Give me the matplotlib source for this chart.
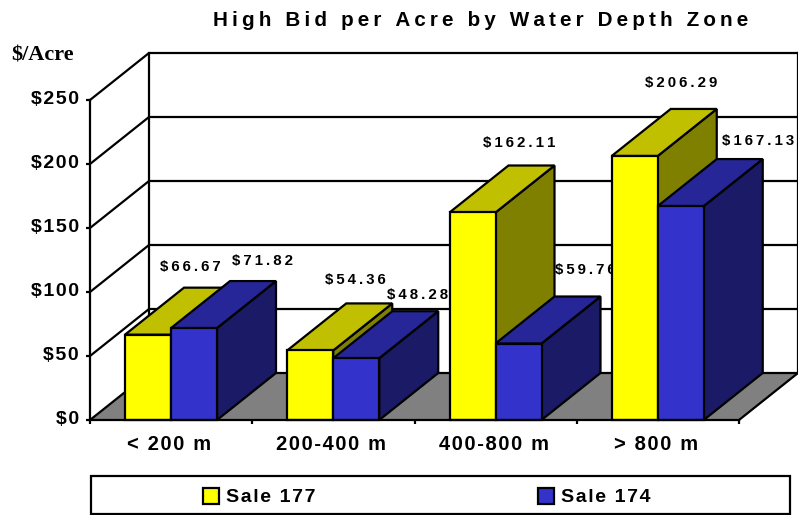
# high bid per acre chart, 3d look bars drawn by hand
import matplotlib
matplotlib.use('Agg')
import matplotlib.pyplot as plt
from matplotlib.patches import Polygon, Rectangle

categories = ['< 200 m', '200-400 m', '400-800 m', '> 800 m']
sale_177 = [66.67, 54.36, 162.11, 206.29]
sale_174 = [71.82, 48.28, 59.76, 167.13]
yticks = [0, 50, 100, 150, 200, 250]
ytick_labels = ['$0', '$50', '$100', '$150', '$200', '$250']

W, H = 798, 515
X0, Y0 = 90, 420      # pixel of category 0, value 0
CAT_W = 162.25
PX_PER_VAL = 1.28
DX = 59 / CAT_W       # depth offset in x units
DV = 47 / PX_PER_VAL  # depth offset in value units
BAR_W = 46 / CAT_W
BAR_GAP = 35 / CAT_W

plt.rcParams['font.family'] = ['Liberation Sans', 'DejaVu Sans']
plt.rcParams['font.weight'] = 'bold'

fig = plt.figure(figsize=(W / 100, H / 100), dpi=100)
ax = fig.add_axes([0, 0, 1, 1])
ax.set_xlim(-X0 / CAT_W, (W - X0) / CAT_W)
ax.set_ylim((Y0 - H) / PX_PER_VAL, Y0 / PX_PER_VAL)
ax.axis('off')

LW = 1.6
n = len(categories)
HAIR = '\u200a'
THIN = '\u2009'


def spaced(s, gap=HAIR):
    # the original text has wide letter spacing
    return gap.join(s)


def px(x, y):
    # pixel position to data position, only for text and legend
    return (x - X0) / CAT_W, (Y0 - y) / PX_PER_VAL


# floor
ax.add_patch(Polygon([(0, 0), (n, 0), (n + DX, DV), (DX, DV)], fc='#808080', ec='none', zorder=1))

# walls and gridlines
top = yticks[-1]
for v in yticks[1:]:
    ax.plot([0, DX, n + DX], [v, v + DV, v + DV], color='k', lw=LW, zorder=2, solid_capstyle='butt')
ax.plot([DX, n + DX], [DV, DV], color='k', lw=LW, zorder=2)
ax.plot([0, DX], [0, DV], color='k', lw=LW, zorder=2)
ax.plot([n, n + DX], [0, DV], color='k', lw=LW, zorder=2)
ax.plot([0, 0], [0, top], color='k', lw=LW, zorder=2)
ax.plot([DX, DX], [DV, top + DV], color='k', lw=LW, zorder=2)
ax.plot([n + DX, n + DX], [DV, top + DV], color='k', lw=LW, zorder=2)
ax.plot([0, n], [0, 0], color='k', lw=LW, zorder=50)

# ticks
for v, lab in zip(yticks, ytick_labels):
    ax.plot([-4 / CAT_W, 0], [v, v], color='k', lw=LW, zorder=2, solid_capstyle='butt')
    ax.text(-11 / CAT_W, v, spaced(lab), ha='right', va='center', fontsize=14, color='k')
for i in range(n + 1):
    ax.plot([i, i], [0, -4 / PX_PER_VAL], color='k', lw=LW, zorder=2, solid_capstyle='butt')
for i, c in enumerate(categories):
    ax.text(i + 0.5 - 2 / CAT_W, px(0, 445)[1], spaced(c), ha='center', va='center', fontsize=14.5, color='k')


def bar3d(x, v, front, roof, side, z):
    w = BAR_W
    ax.add_patch(Polygon([(x + w, 0), (x + w + DX, DV), (x + w + DX, v + DV), (x + w, v)],
                         fc=side, ec='k', lw=LW, zorder=z, joinstyle='miter'))
    ax.add_patch(Polygon([(x, v), (x + w, v), (x + w + DX, v + DV), (x + DX, v + DV)],
                         fc=roof, ec='k', lw=LW, zorder=z, joinstyle='miter'))
    ax.add_patch(Polygon([(x, 0), (x + w, 0), (x + w, v), (x, v)],
                         fc=front, ec='k', lw=LW, zorder=z, joinstyle='miter'))


# value label shifts from the front top left corner of each bar, in pixels
shift_177 = [(65, 68), (68, 70), (70, 69), (69, 73)]
shift_174 = [(92, 67), (84, 63), (90, 74), (100, 65)]

for i in range(n):
    x1 = i + BAR_GAP
    x2 = x1 + BAR_W
    bar3d(x1, sale_177[i], '#FFFF00', '#C0C000', '#808000', 10 + 2 * i)
    bar3d(x2, sale_174[i], '#3333CC', '#262699', '#1A1A66', 11 + 2 * i)
    ax.annotate(spaced('$%.2f' % sale_177[i], THIN), (x1, sale_177[i]), xytext=(shift_177[i][0] * 0.72, shift_177[i][1] * 0.72),
                textcoords='offset points', ha='center', va='center', fontsize=10.8, color='k', zorder=3)
    ax.annotate(spaced('$%.2f' % sale_174[i], THIN), (x2, sale_174[i]), xytext=(shift_174[i][0] * 0.72, shift_174[i][1] * 0.72),
                textcoords='offset points', ha='center', va='center', fontsize=10.8, color='k', zorder=3)

# titles
ax.text(*px(481, 21), spaced('High Bid per Acre by Water Depth Zone', THIN), ha='center', va='center', fontsize=14.9, color='k')
ax.text(*px(11, 55), '$/Acre', ha='left', va='center', fontsize=16, family=['Liberation Serif'], color='k')

# legend box
lx0, ly0 = px(91, 514)
lx1, ly1 = px(790, 476)
ax.add_patch(Rectangle((lx0, ly0), lx1 - lx0, ly1 - ly0, fc='white', ec='k', lw=LW, zorder=2))
for sw_x, text_x, col, lab in [(203, 226, '#FFFF00', 'Sale 177'), (538, 561, '#3333CC', 'Sale 174')]:
    sx, sy = px(sw_x, 504)
    ax.add_patch(Rectangle((sx, sy), 16 / CAT_W, 16 / PX_PER_VAL, fc=col, ec='k', lw=LW, zorder=3))
    ax.text(*px(text_x, 497), spaced(lab), ha='left', va='center', fontsize=14, color='k')

fig.savefig('out.png', dpi=100)
